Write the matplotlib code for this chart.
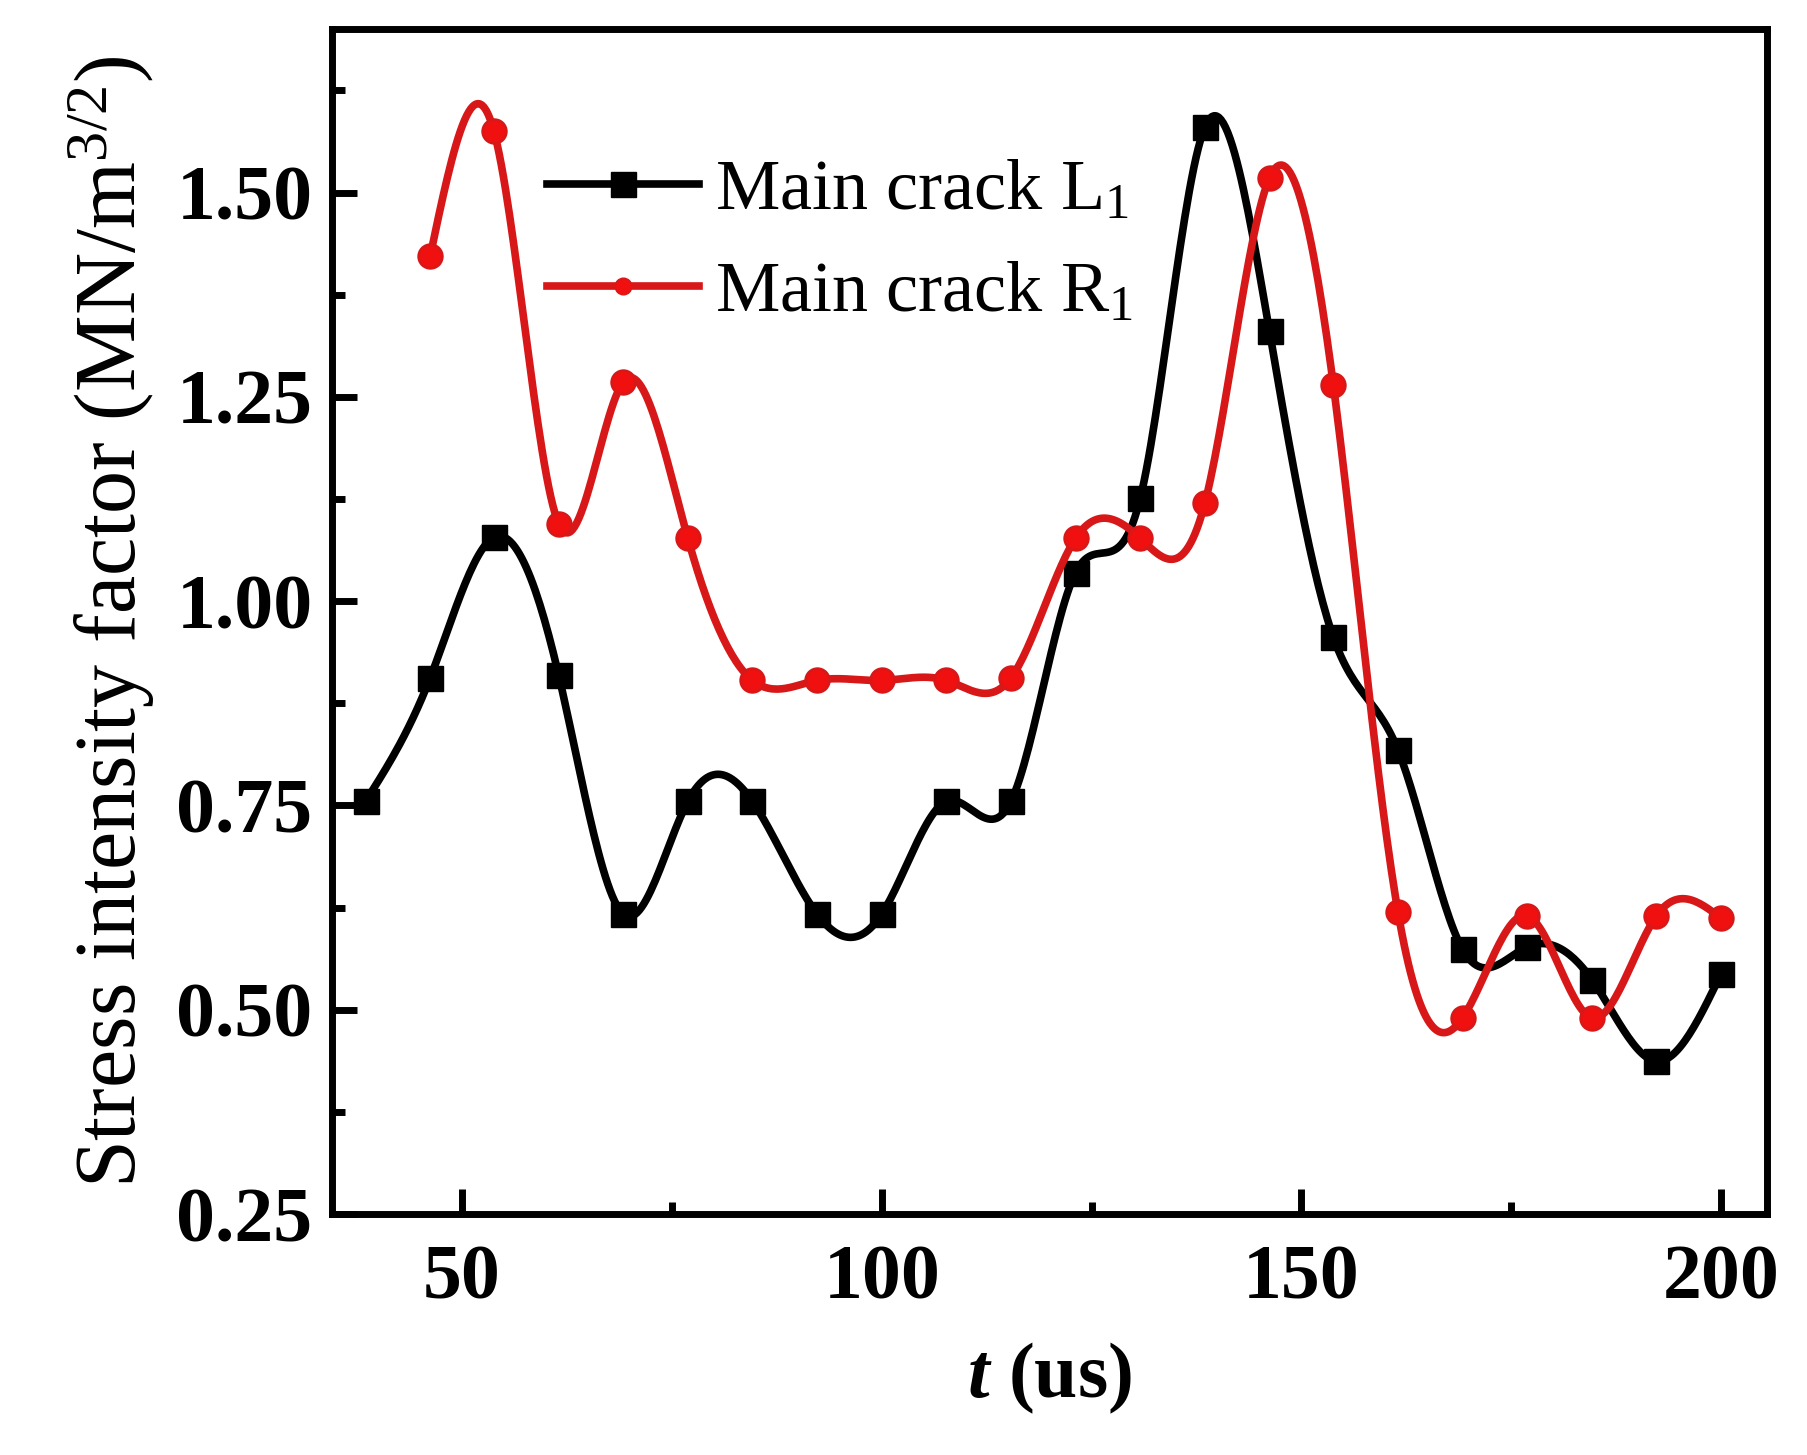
import numpy as np
import matplotlib
matplotlib.use('Agg')
import matplotlib.pyplot as plt
from matplotlib.ticker import MultipleLocator
from matplotlib.lines import Line2D

plt.rcParams['font.family'] = ['Liberation Serif', 'DejaVu Serif']
plt.rcParams['mathtext.fontset'] = 'custom'
plt.rcParams['mathtext.rm'] = 'Liberation Serif'
plt.rcParams['mathtext.it'] = 'Liberation Serif:italic:bold'
plt.rcParams['mathtext.bf'] = 'Liberation Serif:bold'

# sampling times (us)
t_L = [38.5, 46.2, 53.8, 61.5, 69.2, 76.9, 84.6, 92.3, 100.0, 107.7, 115.4,
       123.1, 130.8, 138.5, 146.2, 153.8, 161.5, 169.2, 176.9, 184.6, 192.3, 200.0]
K_L = [0.755, 0.906, 1.078, 0.91, 0.617, 0.755, 0.755, 0.617, 0.617, 0.755, 0.755,
       1.035, 1.126, 1.58, 1.33, 0.956, 0.818, 0.574, 0.577, 0.537, 0.437, 0.544]

t_R = [46.2, 53.8, 61.5, 69.2, 76.9, 84.6, 92.3, 100.0, 107.7, 115.4,
       123.1, 130.8, 138.5, 146.2, 153.8, 161.5, 169.2, 176.9, 184.6, 192.3, 200.0]
K_R = [1.422, 1.575, 1.095, 1.268, 1.077, 0.903, 0.903, 0.903, 0.903, 0.906,
       1.077, 1.077, 1.12, 1.518, 1.265, 0.62, 0.49, 0.615, 0.49, 0.615, 0.612]


def spline(x, y, n=600):
    # natural cubic spline through the points
    x = np.asarray(x, float)
    y = np.asarray(y, float)
    m = len(x)
    h = np.diff(x)
    A = np.zeros((m, m))
    b = np.zeros(m)
    A[0, 0] = A[-1, -1] = 1
    for i in range(1, m - 1):
        A[i, i - 1] = h[i - 1]
        A[i, i] = 2 * (h[i - 1] + h[i])
        A[i, i + 1] = h[i]
        b[i] = 3 * ((y[i + 1] - y[i]) / h[i] - (y[i] - y[i - 1]) / h[i - 1])
    c = np.linalg.solve(A, b)
    xs = np.linspace(x[0], x[-1], n)
    idx = np.clip(np.searchsorted(x, xs) - 1, 0, m - 2)
    dx = xs - x[idx]
    bb = (y[idx + 1] - y[idx]) / h[idx] - h[idx] * (2 * c[idx] + c[idx + 1]) / 3
    dd = (c[idx + 1] - c[idx]) / (3 * h[idx])
    ys = y[idx] + bb * dx + c[idx] * dx ** 2 + dd * dx ** 3
    return xs, ys


fig = plt.figure(figsize=(18.07, 14.55), dpi=100)
ax = fig.add_axes([0.1837, 0.1656, 0.7943, 0.8144])

red = '#d81818'
xs, ys = spline(t_L, K_L)
ax.plot(xs, ys, color='black', lw=5.5, zorder=3)
ax.plot(t_L, K_L, ls='none', marker='s', ms=18, color='black', zorder=4)

xs, ys = spline(t_R, K_R)
ax.plot(xs, ys, color=red, lw=5.5, zorder=5)
ax.plot(t_R, K_R, ls='none', marker='o', ms=17, mfc='#f01010', mec=red, mew=2, zorder=6)

ax.set_xlim(34.5, 205.5)
ax.set_ylim(0.25, 1.70)
ax.xaxis.set_major_locator(MultipleLocator(50))
ax.xaxis.set_minor_locator(MultipleLocator(25))
ax.yaxis.set_major_locator(MultipleLocator(0.25))
ax.yaxis.set_minor_locator(MultipleLocator(0.125))
ax.yaxis.set_major_formatter(matplotlib.ticker.FormatStrFormatter('%.2f'))

for s in ax.spines.values():
    s.set_linewidth(5)
ax.tick_params(which='major', direction='in', length=18, width=5, labelsize=56, pad=14)
ax.tick_params(which='minor', direction='in', length=9, width=5)
ax.tick_params(axis='x', pad=22)
for lab in ax.get_xticklabels() + ax.get_yticklabels():
    lab.set_fontweight('bold')

ax.set_xlabel(r'$t$ (us)', fontsize=56, fontweight='bold', labelpad=18)
ax.set_ylabel(r'Stress intensity factor (MN/m$^{3/2}$)', fontsize=62, labelpad=14)

handles = [
    Line2D([], [], color='black', lw=5.5, marker='s', ms=18),
    Line2D([], [], color=red, lw=5.5, marker='o', ms=12, mfc='#f01010', mec=red),
]
ax.legend(handles, [r'Main crack L$_1$', r'Main crack R$_1$'],
          loc='upper left', bbox_to_anchor=(0.125, 0.921), frameon=False, borderpad=0,
          fontsize=52, handlelength=2.1, handletextpad=0.22, labelspacing=0.5)

fig.savefig('out.png', dpi=100)
